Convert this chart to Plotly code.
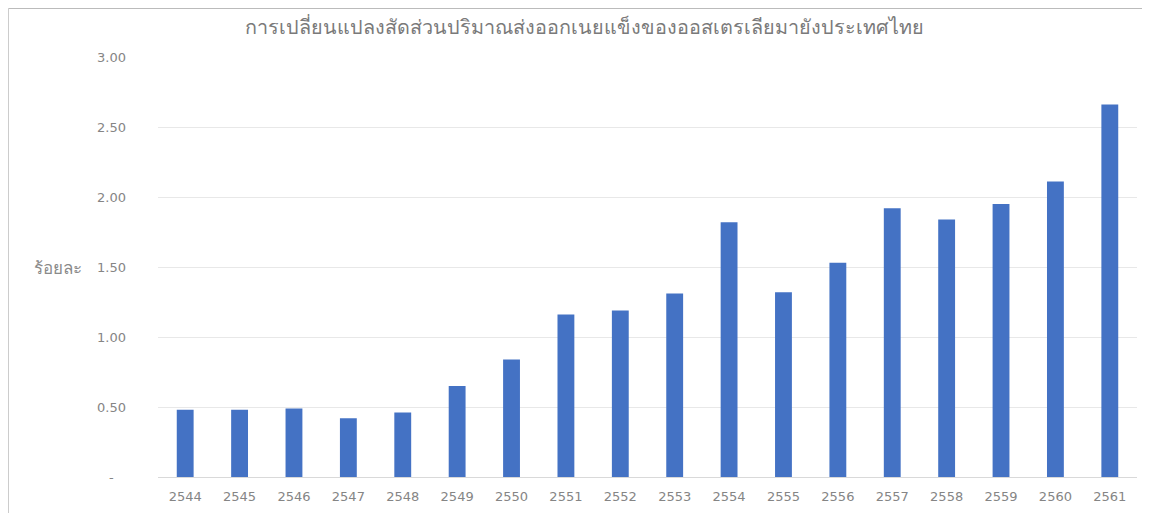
import plotly.graph_objects as go

years = ["2544", "2545", "2546", "2547", "2548", "2549", "2550", "2551", "2552",
         "2553", "2554", "2555", "2556", "2557", "2558", "2559", "2560", "2561"]
share_pct = [0.48, 0.48, 0.49, 0.42, 0.46, 0.65, 0.84, 1.16, 1.19,
             1.31, 1.82, 1.32, 1.53, 1.92, 1.84, 1.95, 2.11, 2.66]
y_tickvals = [0, 0.5, 1.0, 1.5, 2.0, 2.5, 3.0]
y_ticktext = ["-\u00a0\u00a0\u00a0", "0.50", "1.00", "1.50", "2.00", "2.50", "3.00"]
title_text = "การเปลี่ยนแปลงสัดส่วนปริมาณส่งออกเนยแข็งของออสเตรเลียมายังประเทศไทย"
y_label = "ร้อยละ"

fig = go.Figure(go.Bar(x=years, y=share_pct, marker_color="#4472C4", marker_line_width=0))

# page body adds an 8px offset; work in screen pixels and convert
OFF = 8
W, H = 1150, 513
L_s, R_s, T_s, B_s = 158, 1137, 57, 477  # plot area in screen pixels
L, T = L_s - OFF, T_s - OFF
R = W - (R_s - OFF)
B = H - (B_s - OFF)
pw, ph = W - L - R, H - T - B

def px_x(p):
    return (p - L_s) / pw

def px_y(p):
    return (B_s - p) / ph

fig.update_layout(
    width=W, height=H,
    margin=dict(l=L, r=R, t=T, b=B, pad=0),
    paper_bgcolor="white", plot_bgcolor="white",
    font=dict(family="DejaVu Sans, sans-serif", color="#808080", size=13),
    bargap=0.69,
    showlegend=False,
    title=dict(text=title_text, x=(584 - OFF) / W, xanchor="center",
               y=1 - (27 - OFF) / H, yanchor="middle",
               font=dict(family="Noto Sans, sans-serif", size=19.8, color="#7a7a7a")),
    xaxis=dict(type="category", showgrid=False, showline=True, linecolor="#d9d9d9",
               linewidth=1, ticks="", tickfont=dict(size=13, color="#858585"),
               ticklabelstandoff=7),
    yaxis=dict(range=[0, 3.0], tickvals=y_tickvals, ticktext=y_ticktext,
               showgrid=True, gridcolor="#e8e8e8", gridwidth=1, zeroline=False,
               showline=False, ticks="", tickfont=dict(size=13, color="#858585"),
               ticklabelstandoff=31),
    shapes=[
        dict(type="line", xref="paper", yref="paper",
             x0=px_x(8.5), x1=px_x(8.5), y0=px_y(8.5), y1=px_y(530),
             line=dict(color="#cccccc", width=1)),
        dict(type="line", xref="paper", yref="paper",
             x0=px_x(8.5), x1=px_x(1170), y0=px_y(8.5), y1=px_y(8.5),
             line=dict(color="#bbbbbb", width=1)),
    ],
    annotations=[dict(text=y_label, xref="paper", yref="y", x=px_x(32), y=1.5,
                      xanchor="left", yanchor="middle", showarrow=False,
                      font=dict(family="Noto Sans, sans-serif", size=17, color="#8a8a8a"))],
)

fig.write_html("out.html")
